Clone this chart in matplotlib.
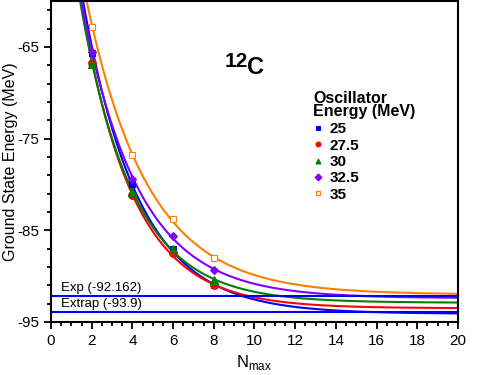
import numpy as np
import matplotlib
matplotlib.use('Agg')
import matplotlib.pyplot as plt
from matplotlib.ticker import MultipleLocator
from matplotlib.lines import Line2D

plt.rcParams['font.family'] = ['Liberation Sans', 'DejaVu Sans']
plt.rcParams['axes.unicode_minus'] = False

# Ground state energies of 12C vs Nmax, per oscillator energy
nmax = [2, 4, 6, 8]
hw_labels = ['25', '27.5', '30', '32.5', '35']
e_25 = [-65.7, -79.9, -87.0, -91.0]
e_275 = [-66.8, -81.2, -87.5, -91.0]
e_30 = [-66.9, -80.8, -87.0, -90.4]
e_325 = [-65.6, -79.4, -85.6, -89.3]
e_35 = [-62.8, -76.8, -83.8, -88.0]
# asymptotes of the exponential fits, read at Nmax = 20
e_inf = [-94.1, -93.5, -92.9, -92.4, -92.0]

e_exp = -92.162
e_extrap = -93.9

series = [e_25, e_275, e_30, e_325, e_35]
colors = ['#0000ff', '#ff0000', '#008000', '#8000ff', '#ff8000']
markers = ['s', 'o', '^', 'D', 's']
faces = ['#0000ff', '#ff0000', '#008000', '#8000ff', 'white']
msizes = [5, 5.5, 5.5, 4.5, 5]

fig = plt.figure(figsize=(4.91, 3.75), dpi=100)
ax = fig.add_axes([51 / 491, 53 / 375, 407 / 491, 321 / 375])

xs = np.linspace(0, 20, 500)
for vals, c_inf, col in zip(series, e_inf, colors):
    # fit E = c + A exp(-b N) with asymptote c
    p = np.polyfit(nmax, np.log(np.array(vals) - c_inf), 1)
    ax.plot(xs, c_inf + np.exp(np.polyval(p, xs)), color=col, lw=1.5, zorder=2)

ax.axhline(e_exp, color='#0000ff', lw=1.5, zorder=2.5)
ax.axhline(e_extrap, color='#0000ff', lw=1.5, zorder=2.5)
ax.text(0.5, e_exp + 0.55, 'Exp (-92.162)', fontsize=9.5)
ax.text(0.5, e_extrap + 0.55, 'Extrap (-93.9)', fontsize=9.5)

handles = []
for vals, col, m, fc, ms, lab in zip(series, colors, markers, faces, msizes, hw_labels):
    ax.plot(nmax, vals, ls='none', marker=m, ms=ms, mfc=fc, mec=col, mew=0.8, zorder=3)
    handles.append(Line2D([], [], ls='none', marker=m, ms=3.5, mfc=fc, mec=col, mew=0.8, label=lab))

ax.text(0.644, 0.72, 'Oscillator\nEnergy (MeV)', transform=ax.transAxes, ha='left', va='top',
        fontsize=11.5, fontweight='bold', linespacing=0.85)
ax.legend(handles=handles, loc='upper left', bbox_to_anchor=(0.644, 0.622), frameon=False,
          borderpad=0, borderaxespad=0, handlelength=0.6, handletextpad=0.5,
          labelspacing=0.15, prop={'weight': 'bold', 'size': 11})

ax.text(8.55, -67.2, '12', fontsize=15, fontweight='bold')
ax.text(9.63, -68.0, 'C', fontsize=17, fontweight='bold')

ax.set_xlim(0, 20)
ax.set_ylim(-95, -60)
ax.xaxis.set_major_locator(MultipleLocator(2))
ax.xaxis.set_minor_locator(MultipleLocator(0.5))
ax.yaxis.set_major_locator(MultipleLocator(10, offset=5))
ax.yaxis.set_minor_locator(MultipleLocator(2, offset=1))
ax.tick_params(which='both', direction='out', width=1.3, labelsize=11, top=False, right=False)
ax.tick_params(which='major', length=5)
ax.tick_params(which='minor', length=3)
for s in ax.spines.values():
    s.set_linewidth(1.5)

ax.set_ylabel('Ground State Energy (MeV)', fontsize=11.5)
ax.yaxis.set_label_coords(-0.08, 0.5)
ax.set_xlabel(r'N$_{\mathregular{max}}$', fontsize=12, labelpad=4)

fig.savefig('out.png', dpi=100)
